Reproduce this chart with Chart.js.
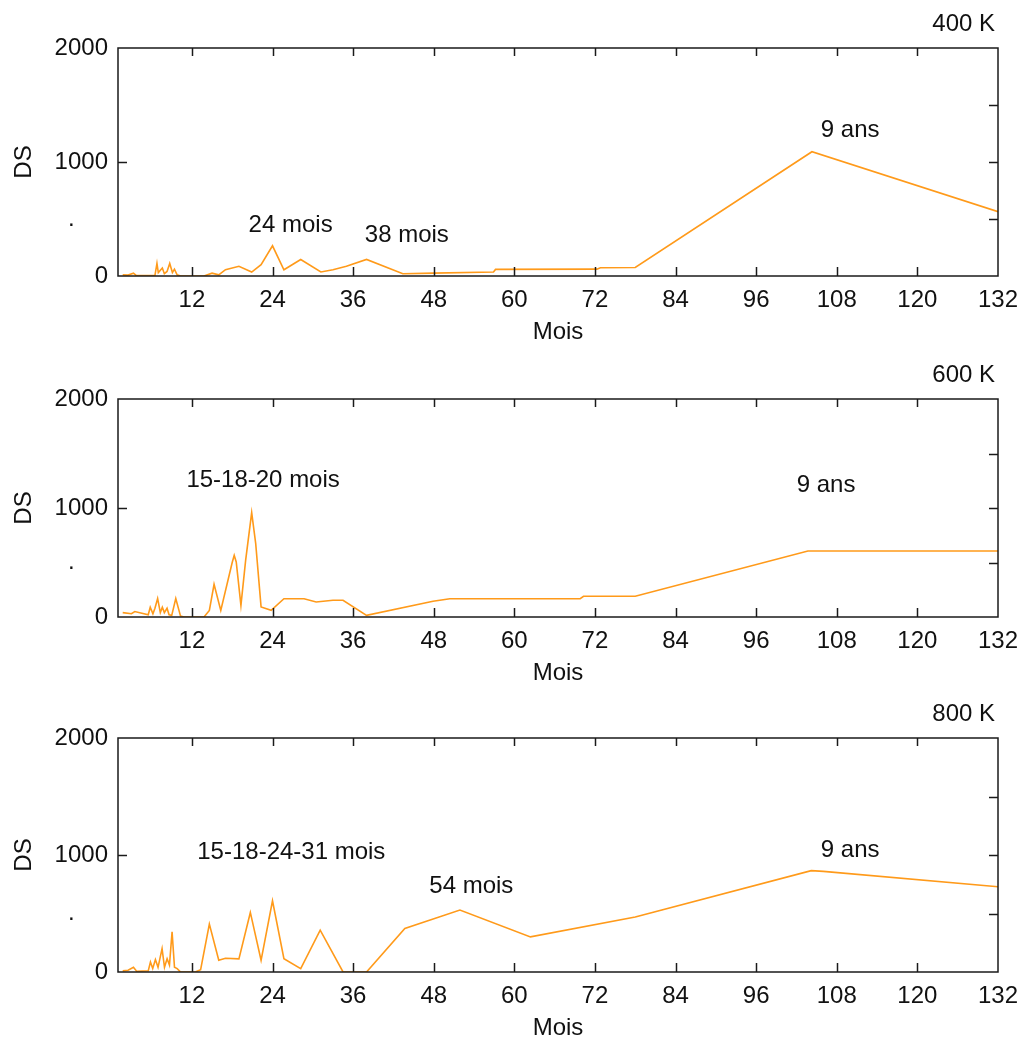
<!DOCTYPE html>
<html>
<head>
<meta charset="utf-8">
<script src="https://cdn.jsdelivr.net/npm/chart.js@4.4.1/dist/chart.umd.min.js"></script>
<style>
    body { margin: 0; background: #fff; width: 1024px; height: 1043px; overflow: hidden; position: relative; }
    .panel { position: absolute; left: 0; width: 1024px; }
</style>
</head>
<body>
<div class="panel" style="top:0px"><canvas id="c400" width="1024" height="346"></canvas></div>
<div class="panel" style="top:346px"><canvas id="c600" width="1024" height="341"></canvas></div>
<div class="panel" style="top:690px"><canvas id="c800" width="1024" height="352"></canvas></div>
<script>
// Data (x = months, y = DS)
const months400 = [1.7, 2.5, 3.3, 3.7, 6.5, 6.8, 7.0, 7.6, 7.9, 8.3, 8.7, 9.1, 9.4, 9.8, 10.3, 13.8, 15, 16, 17, 19, 20.9, 22.3, 24, 25.7, 28.2, 31.2, 33, 35, 38, 43.4, 48, 56.9, 57.2, 72.3, 72.8, 78, 104.3, 132];
const ds400     = [10, 8, 25, 5, 5, 110, 30, 70, 20, 40, 110, 30, 60, 10, 0, 0, 25, 10, 55, 85, 35, 100, 265, 55, 145, 35, 55, 85, 145, 20, 25, 35, 58, 60, 72, 75, 1090, 564];

const months600 = [1.7, 3.0, 3.5, 5.5, 5.8, 6.2, 6.5, 6.9, 7.3, 7.6, 7.9, 8.3, 8.6, 9.0, 9.6, 10.3, 10.8, 13.8, 14.6, 15.3, 16.3, 18.0, 18.3, 18.6, 19.3, 20.0, 20.9, 21.5, 22.3, 23.8, 25.7, 28.7, 30.5, 33, 34.5, 38, 47.9, 50.4, 69.8, 70.3, 78, 103.7, 132];
const ds600     = [40, 30, 50, 20, 90, 30, 80, 170, 40, 90, 40, 80, 20, 15, 170, 10, 0, 0, 60, 300, 60, 500, 566, 505, 107, 520, 958, 673, 92, 61, 168, 168, 138, 153, 153, 15, 144, 168, 168, 190, 190, 606, 606];

const months800 = [1.7, 2.5, 3.3, 3.8, 5.5, 5.83, 6.17, 6.57, 6.96, 7.56, 7.92, 8.31, 8.66, 9.05, 9.41, 9.81, 10.31, 12.5, 13.3, 14.6, 16, 17, 19, 20.7, 22.3, 24, 25.7, 28.2, 31.1, 34.5, 38, 43.7, 51.9, 62.4, 78, 104.2, 106, 132];
const ds800     = [10, 15, 40, 5, 10, 86, 30, 106, 40, 200, 40, 114, 60, 343, 40, 29, 0, 0, 20, 409, 100, 117, 112, 509, 100, 609, 114, 29, 357, 0, 0, 372, 529, 300, 470, 866, 860, 729];

const xTickValues = [12, 24, 36, 48, 60, 72, 84, 96, 108, 120, 132];
const yTickValues = [0, 500, 1000, 1500, 2000];
const yTickLabels = ['0', '.     ', '1000', '', '2000'];

// annotation texts: [text, month, DS]
const notes400 = [['24 mois', 26.7, 447], ['38 mois', 44.0, 360], ['9 ans', 110.0, 1281]];
const notes600 = [['15-18-20 mois', 22.6, 1255], ['9 ans', 106.4, 1209]];
const notes800 = [['15-18-24-31 mois', 26.8, 1021], ['54 mois', 53.6, 736], ['9 ans', 110.0, 1040]];

const FONT = '24px "Liberation Sans", Arial, sans-serif';
Chart.defaults.font.family = '"Liberation Sans", Arial, sans-serif';
Chart.defaults.font.size = 24;
Chart.defaults.color = '#111';

function line(ctx, x1, y1, x2, y2) {
    ctx.beginPath();
    ctx.moveTo(x1, y1);
    ctx.lineTo(x2, y2);
    ctx.stroke();
}

// box, inward ticks and texts, drawn over the data like MATLAB does
const matlabAxes = {
    id: 'matlabAxes',
    afterDatasetsDraw(chart, args, opts) {
        const ctx = chart.ctx;
        const { left, right, top, bottom } = chart.chartArea;
        const xs = chart.scales.x, ys = chart.scales.y;
        ctx.save();
        ctx.strokeStyle = '#1a1a1a';
        ctx.lineWidth = 1.5;
        xTickValues.forEach(v => {
            if (v >= 132) return;
            const px = Math.round(xs.getPixelForValue(v)) + 0.5;
            line(ctx, px, top, px, top + 8);
            line(ctx, px, bottom, px, bottom - 9);
        });
        [1000].forEach(v => {
            const py = Math.round(ys.getPixelForValue(v)) + 0.5;
            line(ctx, left, py, left + 9, py);
        });
        [500, 1000, 1500].forEach(v => {
            const py = Math.round(ys.getPixelForValue(v)) + 0.5;
            line(ctx, right, py, right - 9, py);
        });
        ctx.strokeRect(left, top, right - left, bottom - top);

        ctx.fillStyle = '#111';
        ctx.font = FONT;
        ctx.textBaseline = 'middle';
        ctx.textAlign = 'center';
        opts.notes.forEach(([t, mx, my]) => {
            ctx.fillText(t, xs.getPixelForValue(mx), ys.getPixelForValue(my));
        });
        ctx.fillText('Mois', (left + right) / 2, bottom + 56);

        ctx.textAlign = 'right';
        ctx.fillText(opts.title, 995, top - 24);

        ctx.save();
        ctx.translate(24, (top + bottom) / 2);
        ctx.rotate(-Math.PI / 2);
        ctx.textAlign = 'center';
        ctx.fillText('DS', 0, 0);
        ctx.restore();
        ctx.restore();
    }
};

function makePanel(canvasId, title, months, values, notes, padTop) {
    const points = months.map((m, i) => ({ x: m, y: values[i] }));
    return new Chart(document.getElementById(canvasId), {
        type: 'line',
        data: {
            datasets: [{
                data: points,
                borderColor: '#ff9a1a',
                borderWidth: 1.6,
                tension: 0,
                pointRadius: 0,
                fill: false
            }]
        },
        options: {
            responsive: false,
            animation: false,
            events: [],
            layout: { padding: { top: padTop, right: 26, left: 0, bottom: 0 } },
            plugins: {
                legend: { display: false },
                tooltip: { enabled: false },
                matlabAxes: { title: title, notes: notes }
            },
            scales: {
                x: {
                    type: 'linear',
                    min: 1,
                    max: 132,
                    grid: { display: false, drawTicks: false },
                    border: { display: false },
                    afterBuildTicks: s => { s.ticks = xTickValues.map(v => ({ value: v })); },
                    afterFit: s => { s.height = 70; s.paddingLeft = 0; s.paddingRight = 0; },
                    ticks: { padding: 10, maxRotation: 0, autoSkip: false }
                },
                y: {
                    min: 0,
                    max: 2000,
                    grid: { display: false, drawTicks: false },
                    border: { display: false },
                    afterBuildTicks: s => { s.ticks = yTickValues.map(v => ({ value: v })); },
                    afterFit: s => { s.width = 118; s.paddingTop = 0; s.paddingBottom = 0; },
                    ticks: {
                        padding: 10,
                        autoSkip: false,
                        callback: v => yTickLabels[yTickValues.indexOf(v)]
                    }
                }
            }
        },
        plugins: [matlabAxes]
    });
}

makePanel('c400', '400 K', months400, ds400, notes400, 48);
makePanel('c600', '600 K', months600, ds600, notes600, 53);
makePanel('c800', '800 K', months800, ds800, notes800, 48);
</script>
</body>
</html>
